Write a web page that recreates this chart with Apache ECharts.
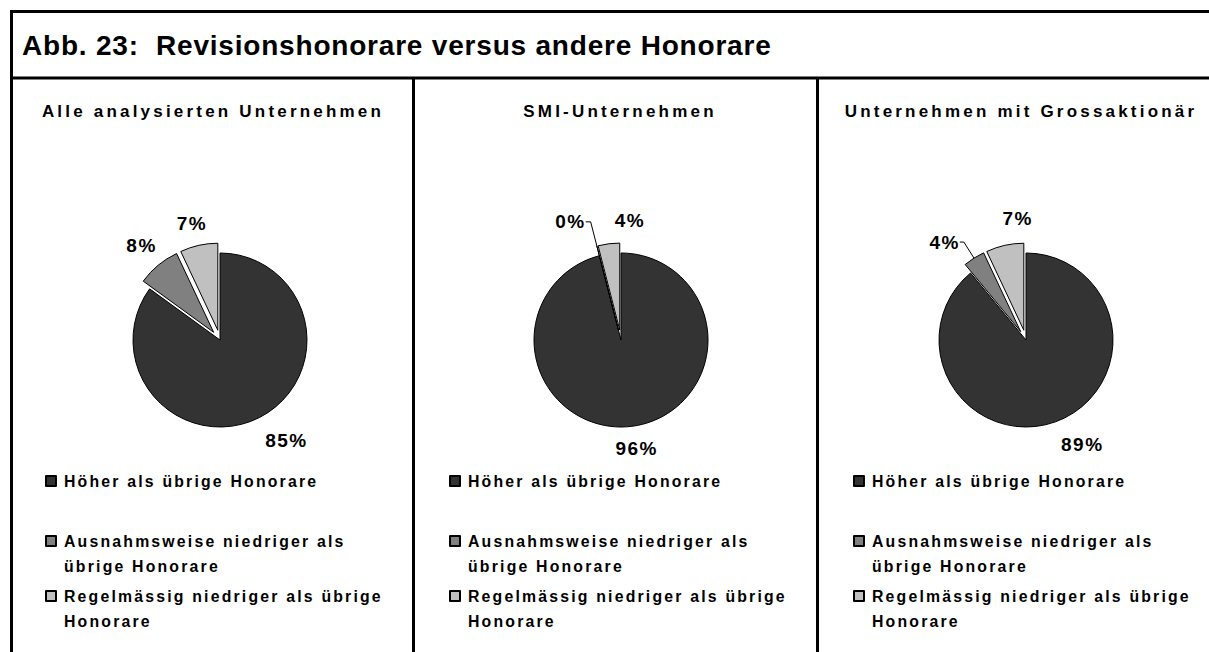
<!DOCTYPE html>
<html>
<head>
<meta charset="utf-8">
<script src="https://cdn.jsdelivr.net/npm/echarts@6/dist/echarts.min.js"></script>
<style>
html, body { margin: 0; padding: 0; background: #fff; }
#chart { width: 1209px; height: 652px; }
svg text { white-space: pre; }
svg text[style*="28px"] { letter-spacing: 0.8px; }
svg text[style*="17px"] { letter-spacing: 3.2px; }
svg text[style*="15.8px"] { letter-spacing: 2.2px; }
svg text[style*="19px"] { letter-spacing: 1.5px; }
</style>
</head>
<body>
<div id="chart"></div>
<script>
// ---- data ----
const mainTitle = 'Abb. 23:  Revisionshonorare versus andere Honorare';
const panelTitles = ['Alle analysierten Unternehmen', 'SMI-Unternehmen', 'Unternehmen mit Grossaktionär'];
const categories = ['Höher als übrige Honorare', 'Ausnahmsweise niedriger als übrige Honorare', 'Regelmässig niedriger als übrige Honorare'];
const legendLabels = ['Höher als übrige Honorare', 'Ausnahmsweise niedriger als\nübrige Honorare', 'Regelmässig niedriger als übrige\nHonorare'];
const valuesAll = [85, 8, 7];
const valuesSMI = [96, 0, 4];
const valuesGross = [89, 4, 7];

// ---- styling / layout ----
const FONT = '"Liberation Sans", Arial, sans-serif';
const colors = ['#333333', '#808080', '#c0c0c0'];
const exploded = [false, true, true];
const pieCx = [220, 621, 1026];
const pieCy = 340;
const subtitleX = [213, 620, 1021];
const legendX = [45, 449, 853];
const legendTop = [468.5, 503.5, 558.5];
// label placement per pie / slice:
// len = radial distance beyond the rim, len2 = horizontal run, shift = fine offset (non-exploded only), line = visible leader line
const labelCfg = [
  [{ len: 33, len2: 0, shift: [12, -6] }, { len: 26, len2: 0 }, { len: 22, len2: 2 }],
  [{ len: 22, len2: 0, shift: [2, 0] }, { line: [25, 5] }, { len: 23, len2: -24 }],
  [{ len: 32, len2: 0, shift: [16, -7] }, { line: [19, 4] }, { len: 28, len2: -19 }]
];

const seriesValues = [valuesAll, valuesSMI, valuesGross];

function buildData(values, p) {
  return values.map((v, i) => {
    const cfg = labelCfg[p][i];
    const item = {
      name: categories[i],
      value: v,
      selected: exploded[i],
      itemStyle: { color: colors[i] }
    };
    if (cfg.line) {
      const ls = { color: '#000', width: 1, opacity: 1 };
      item.labelLine = { show: true, length: cfg.line[0], length2: cfg.line[1], lineStyle: ls };
      item.select = { labelLine: { lineStyle: ls } };
    } else {
      const ls = { color: '#000', width: 0, opacity: 0 };
      item.labelLine = { show: true, length: cfg.len, length2: cfg.len2, lineStyle: ls };
      item.select = { labelLine: { lineStyle: ls } };
    }
    return item;
  });
}

const series = seriesValues.map((vals, p) => ({
  type: 'pie',
  center: [pieCx[p], pieCy],
  radius: 87,
  startAngle: 90,
  clockwise: true,
  avoidLabelOverlap: false,
  selectedMode: 'multiple',
  selectedOffset: 10,
  animation: false,
  itemStyle: { borderColor: '#000', borderWidth: 1 },
  emphasis: { disabled: true },
  label: {
    show: true,
    position: 'outside',
    formatter: '{c}%',
    fontFamily: FONT,
    fontSize: 19,
    fontWeight: 'bold',
    color: '#000',
    distanceToLabelLine: 0
  },
  labelLayout: function (params) {
    const cfg = labelCfg[p][params.dataIndex];
    if (cfg.line) return {};
    if (exploded[params.dataIndex]) {
      return { align: 'center', verticalAlign: 'middle' };
    }
    const pts = params.labelLinePoints;
    if (!pts) return {};
    return {
      x: pts[1][0] + cfg.shift[0],
      y: pts[1][1] + cfg.shift[1],
      align: 'center',
      verticalAlign: 'middle'
    };
  },
  data: buildData(vals, p)
}));

const titles = [{
  text: mainTitle,
  left: 22,
  top: 31,
  padding: 0,
  textStyle: { fontFamily: FONT, fontSize: 28, fontWeight: 'bold', color: '#000' }
}].concat(panelTitles.map((t, p) => ({
  text: t,
  left: subtitleX[p],
  top: 103,
  padding: 0,
  textAlign: 'center',
  textStyle: { fontFamily: FONT, fontSize: 17, fontWeight: 'bold', color: '#000' }
})));

const legends = [];
for (let p = 0; p < 3; p++) {
  for (let k = 0; k < 3; k++) {
    legends.push({
      data: [categories[k]],
      orient: 'vertical',
      left: legendX[p],
      top: legendTop[k],
      padding: 0,
      icon: 'rect',
      itemWidth: 10,
      itemHeight: 10,
      selectedMode: false,
      // multi-line entries get a leading blank line so that the first text line sits level with the marker
      formatter: name => {
        const lbl = legendLabels[categories.indexOf(name)];
        return lbl.indexOf('\n') >= 0 ? '\n' + lbl : lbl;
      },
      textStyle: {
        fontFamily: FONT, fontSize: 15.8, fontWeight: 'bold', color: '#000', lineHeight: 25,
        padding: [0, 0, 0, 3]
      }
    });
  }
}

const lineStyle = { stroke: '#000', lineWidth: 3 };
const graphic = [
  { type: 'line', shape: { x1: 10, y1: 11.5, x2: 1209, y2: 11.5 }, style: lineStyle, silent: true },
  { type: 'line', shape: { x1: 11.5, y1: 10, x2: 11.5, y2: 652 }, style: lineStyle, silent: true },
  { type: 'line', shape: { x1: 10, y1: 78, x2: 1209, y2: 78 }, style: lineStyle, silent: true },
  { type: 'line', shape: { x1: 413.5, y1: 78, x2: 413.5, y2: 652 }, style: lineStyle, silent: true },
  { type: 'line', shape: { x1: 817.5, y1: 78, x2: 817.5, y2: 652 }, style: lineStyle, silent: true }
];

const chart = echarts.init(document.getElementById('chart'), null, { renderer: 'svg' });
chart.setOption({
  backgroundColor: '#fff',
  animation: false,
  title: titles,
  legend: legends,
  graphic: graphic,
  series: series
});
</script>
</body>
</html>
